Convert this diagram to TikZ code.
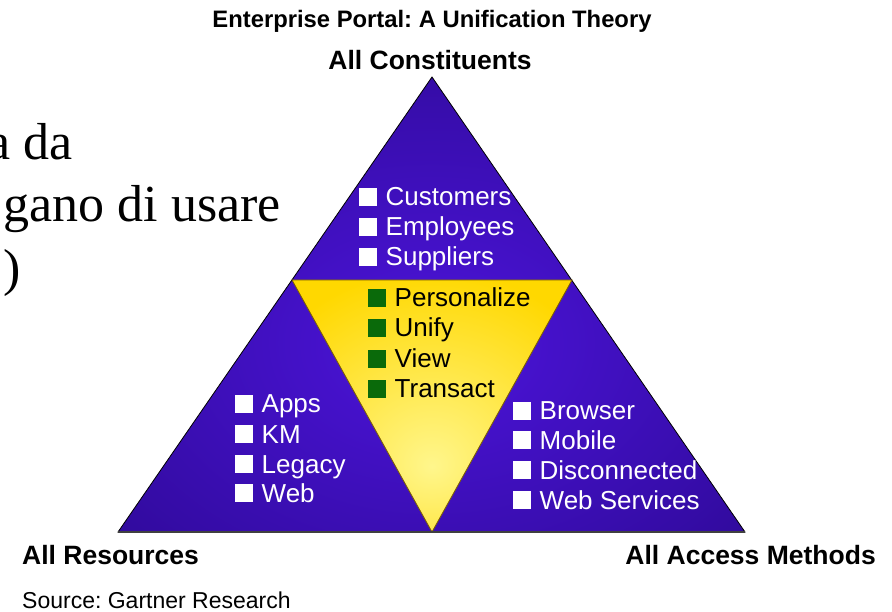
\documentclass[tikz,border=0pt]{standalone}
\usepackage{fontspec}
\setmainfont{Liberation Sans}
\newfontfamily\slideserif{Liberation Serif}
\frenchspacing
\definecolor{blueL}{HTML}{4C14DA}
\definecolor{blueD}{HTML}{2A088E}
\definecolor{yelL}{HTML}{FFF68C}
\definecolor{yelD}{HTML}{FFD800}
\definecolor{yelEdge}{HTML}{7A5C00}
\definecolor{sqgreen}{HTML}{0A6A0A}
\pgfdeclareradialshading{bluerad}{\pgfpoint{0bp}{-5bp}}{color(0bp)=(blueL); color(42bp)=(blueD); color(80bp)=(blueD)}
\pgfdeclareradialshading{yelrad}{\pgfpoint{0bp}{-12bp}}{color(0bp)=(yelL); color(34bp)=(yelD); color(80bp)=(yelD)}
\newcommand\wsq{\textcolor{white}{\rule{18pt}{18pt}}\hspace{8.5pt}}
\newcommand\gsq{\textcolor{sqgreen}{\rule{18pt}{18pt}}\hspace{8.5pt}}
\tikzset{
  listitem/.style={font=\fontsize{26}{30}\selectfont, inner sep=0pt, anchor=base west},
  wlist/.style={listitem, text=white},
  ylist/.style={listitem, text=black},
  boldlbl/.style={font=\fontsize{26.5}{30}\selectfont\bfseries, inner sep=0pt},
  slidetxt/.style={font=\fontsize{52}{60}\selectfont\slideserif, inner sep=0pt},
}
\begin{document}
\begin{tikzpicture}[x=1pt,y=-1pt]
\useasboundingbox (0,0) rectangle (892,612);
% triangle corners
\coordinate (apex) at (432,77);
\coordinate (bl) at (118,532);
\coordinate (br) at (745,532);
\coordinate (yl) at (292,280);
\coordinate (yr) at (572,280);
\coordinate (yb) at (432,532);
\shade[shading=bluerad, draw=black, line width=0.8pt] (apex) -- (br) -- (bl) -- cycle;
\shade[shading=yelrad, draw=yelEdge, line width=0.8pt] (yl) -- (yr) -- (yb) -- cycle;
\draw[line width=1.6pt, black!75] (bl) -- (br);
% titles
\node[font=\fontsize{23.8}{26}\selectfont\bfseries, inner sep=0pt, anchor=base] (title) at (432,28) {Enterprise Portal: A Unification Theory};
\node[boldlbl, anchor=base] (allc) at (430,70) {All Constituents};
\node[boldlbl, anchor=base west] (allr) at (22,564) {All Resources};
\node[boldlbl, anchor=base east] (alla) at (876,564) {All Access Methods};
\node[font=\fontsize{23}{26}\selectfont, inner sep=0pt, text depth=0pt, anchor=base west] (src) at (22,608) {Source: Gartner Research};
% slide text
\node[slidetxt, anchor=base east] (s1) at (73,160) {a da};
\node[slidetxt, anchor=base east] (s2) at (281,222) {gano di usare};
\node[slidetxt, anchor=base west] (s3) at (3,286) {)};
% top list
\node[wlist] (cust) at (359,206) {\wsq Customers};
\node[wlist] (empl) at (359,236) {\wsq Employees};
\node[wlist] (supp) at (359,266) {\wsq Suppliers};
% center list
\node[ylist] (pers) at (368,307) {\gsq Personalize};
\node[ylist] (unif) at (368,337) {\gsq Unify};
\node[ylist] (view) at (368,368) {\gsq View};
\node[ylist] (trans) at (368,398) {\gsq Transact};
% left list
\node[wlist] (apps) at (235,413) {\wsq Apps};
\node[wlist] (km) at (235,443) {\wsq KM};
\node[wlist] (legacy) at (235,473) {\wsq Legacy};
\node[wlist] (web) at (235,502) {\wsq Web};
% right list
\node[wlist] (browser) at (513,420) {\wsq Browser};
\node[wlist] (mobile) at (513,449) {\wsq Mobile};
\node[wlist] (disc) at (513,479) {\wsq Disconnected};
\node[wlist] (websvc) at (513,509) {\wsq Web Services};
\end{tikzpicture}
\end{document}
